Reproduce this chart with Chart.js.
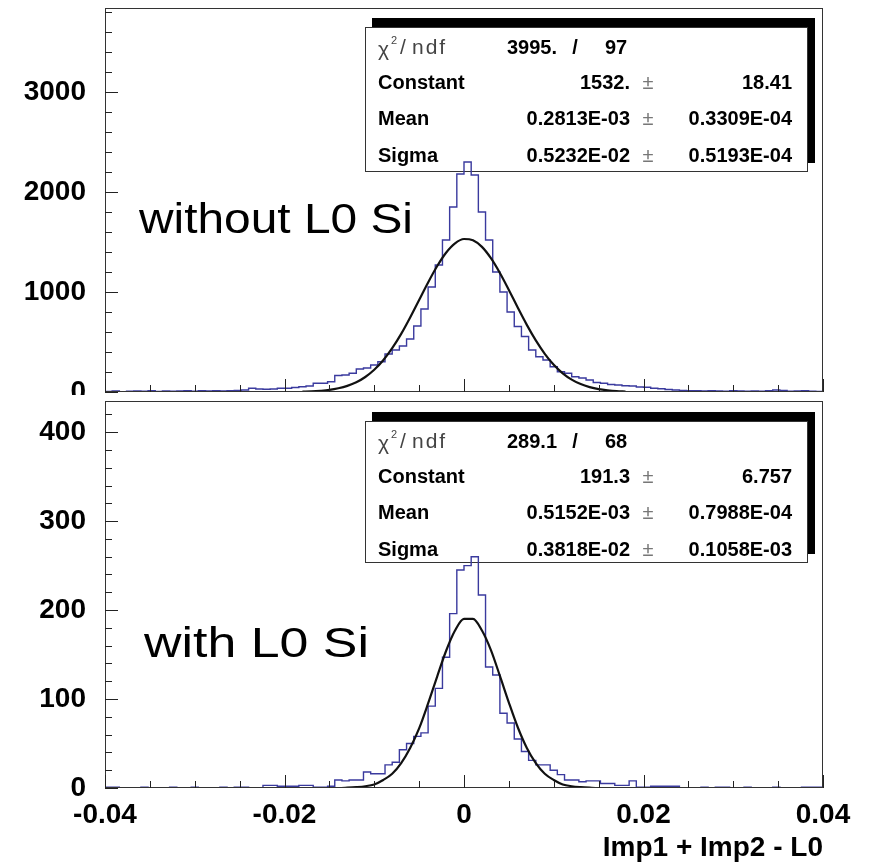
<!DOCTYPE html>
<html>
<head>
<meta charset="utf-8">
<script src="https://cdn.jsdelivr.net/npm/chart.js@4.4.1/dist/chart.umd.min.js"></script>
<style>
  html, body { margin: 0; padding: 0; background: #fff; }
  body { width: 871px; height: 868px; position: relative; overflow: hidden; }
  canvas { position: absolute; left: 0; }
  #topChart { top: 0; }
  #bottomChart { top: 395px; }
  .edge-left { position: absolute; left: 1px; top: 0; height: 868px; border-left: 1px dashed #d6d6d6; }
  .edge-right { position: absolute; left: 858px; top: 0; width: 13px; height: 868px;
    background: repeating-linear-gradient(to bottom, #e2e2e2 0 2px, transparent 2px 7px); }
</style>
</head>
<body>
<div class="edge-left"></div>
<div class="edge-right"></div>
<canvas id="topChart" width="871" height="400"></canvas>
<canvas id="bottomChart" width="871" height="473"></canvas>
<script>
const FONT = "'Liberation Sans', Arial, Helvetica, sans-serif";

// histogram binning: 100 bins from -0.04 to 0.04
const X_MIN = -0.04;
const X_MAX = 0.04;
const BIN_WIDTH = 0.0008;

// tick labels
const xTicks = [-0.04, -0.02, 0, 0.02, 0.04];
const xTickLabels = ['-0.04', '-0.02', '0', '0.02', '0.04'];
const topYTicks = [0, 1000, 2000, 3000];
const bottomYTicks = [0, 100, 200, 300, 400];

// entries per bin, without L0 Si
const topCounts = [
  6, 10, 4, 8, 10, 8, 12, 6, 10, 8,
  10, 12, 8, 12, 10, 14, 10, 13, 15, 20,
  37, 30, 27, 30, 37, 37, 45, 53, 60, 87,
  87, 103, 165, 170, 187, 230, 240, 270, 303, 380,
  420, 460, 530, 660, 830, 1050, 1270, 1520, 1850, 2180,
  2300, 2170, 1800, 1520, 1200, 1000, 800, 655, 555, 420,
  353, 320, 253, 203, 187, 153, 140, 120, 95, 87,
  75, 70, 62, 60, 50, 47, 37, 33, 25, 20,
  15, 13, 12, 10, 12, 10, 8, 12, 10, 8,
  10, 8, 12, 20, 15, 8, 10, 12, 8, 6
];

// entries per bin, with L0 Si
const bottomCounts = [
  1, 1, 0, 0, 0, 1, 0, 0, 0, 1,
  0, 0, 1, 0, 0, 0, 1, 0, 1, 1,
  0, 0, 3, 3, 2, 2, 2, 3, 3, 1,
  1, 2, 9, 8, 9, 9, 18, 16, 16, 26,
  29, 43, 50, 58, 62, 92, 112, 147, 196, 245,
  250, 260, 217, 136, 127, 84, 73, 55, 41, 31,
  26, 26, 20, 15, 9, 9, 7, 8, 8, 5,
  5, 3, 3, 8, 1, 1, 2, 2, 2, 2,
  0, 0, 0, 1, 0, 1, 1, 0, 0, 1,
  0, 0, 0, 1, 0, 0, 0, 1, 1, 1
];

// gaussian fit curves
const fitX = [
  -0.018, -0.017, -0.016, -0.015, -0.014, -0.013, -0.012, -0.011, -0.010, -0.009,
  -0.008, -0.007, -0.006, -0.005, -0.004, -0.003, -0.002, -0.001, 0,
  0.001, 0.002, 0.003, 0.004, 0.005, 0.006, 0.007, 0.008, 0.009,
  0.010, 0.011, 0.012, 0.013, 0.014, 0.015, 0.016, 0.017, 0.018
];
const fitTop = [
  3, 6, 12, 21, 37, 61, 97, 150, 222, 317,
  438, 581, 745, 920, 1096, 1258, 1393, 1487, 1530,
  1517, 1451, 1338, 1190, 1020, 842, 671, 516, 382,
  272, 187, 124, 79, 49, 29, 17, 9, 5
];
const fitBottom = [
  0, 0, 0, 0, 0, 0.4, 1, 2, 4, 9,
  16, 28, 45, 67, 95, 125, 154, 177, 190,
  190, 177, 155, 126, 96, 68, 45, 28, 16,
  9, 4, 2, 1, 0.4, 0, 0, 0, 0
];

// stats boxes
const topChi = ['3995.', '97'];
const topParams = [
  ['Constant', '1532.', '18.41'],
  ['Mean', '0.2813E-03', '0.3309E-04'],
  ['Sigma', '0.5232E-02', '0.5193E-04']
];
const bottomChi = ['289.1', '68'];
const bottomParams = [
  ['Constant', '191.3', '6.757'],
  ['Mean', '0.5152E-03', '0.7988E-04'],
  ['Sigma', '0.3818E-02', '0.1058E-03']
];

function stepPoints(counts) {
  const pts = counts.map((c, i) => ({ x: X_MIN + i * BIN_WIDTH, y: c }));
  pts.push({ x: X_MAX, y: counts[counts.length - 1] });
  return pts;
}

function drawStatsBox(ctx, b, chi, params) {
  const w = b.right - b.left, h = b.bottom - b.top;
  const rows = [27, 62, 98, 135];
  ctx.save();
  // shadow up and to the right
  ctx.fillStyle = '#000';
  ctx.fillRect(b.left + 7, b.top - 9, w, h);
  ctx.fillStyle = '#fff';
  ctx.fillRect(b.left, b.top, w, h);
  ctx.strokeStyle = '#333';
  ctx.lineWidth = 1;
  ctx.strokeRect(b.left + 0.5, b.top + 0.5, w - 1, h - 1);

  ctx.textBaseline = 'alphabetic';
  ctx.textAlign = 'left';
  // chi2/ndf label
  const y0 = b.top + rows[0];
  ctx.fillStyle = '#444';
  ctx.font = `21px ${FONT}`;
  ctx.fillText('\u03c7', b.left + 13, y0 + 2);
  ctx.font = `11px ${FONT}`;
  ctx.fillText('2', b.left + 26, y0 - 10);
  ctx.font = `21px ${FONT}`;
  ctx.fillText('/', b.left + 35, y0);
  ctx.letterSpacing = '2px';
  ctx.fillText('ndf', b.left + 47, y0);
  ctx.letterSpacing = '0px';

  ctx.fillStyle = '#000';
  ctx.font = `bold 20px ${FONT}`;
  ctx.fillText(chi[0], b.left + 142, y0);
  ctx.textAlign = 'center';
  ctx.fillText('/', b.left + 210, y0);
  ctx.textAlign = 'left';
  ctx.fillText(chi[1], b.left + 240, y0);

  params.forEach((p, i) => {
    const yb = b.top + rows[i + 1];
    ctx.fillStyle = '#000';
    ctx.font = `bold 20px ${FONT}`;
    ctx.textAlign = 'left';
    ctx.fillText(p[0], b.left + 13, yb);
    ctx.textAlign = 'right';
    ctx.fillText(p[1], b.left + 265, yb);
    ctx.fillText(p[2], b.left + 427, yb);
    ctx.textAlign = 'center';
    ctx.fillStyle = '#777';
    ctx.font = `20px ${FONT}`;
    ctx.fillText('\u00b1', b.left + 283, yb);
  });
  ctx.restore();
}

function drawNote(ctx, text, x, baseline, width) {
  ctx.save();
  ctx.font = `42px ${FONT}`;
  ctx.fillStyle = '#000';
  ctx.textAlign = 'left';
  ctx.textBaseline = 'alphabetic';
  const tw = ctx.measureText(text).width;
  ctx.translate(x, baseline);
  ctx.scale(width / tw, 1);
  ctx.fillText(text, 0, 0);
  ctx.restore();
}

function drawFrame(chart, yMinor, yMajor) {
  const { ctx, chartArea: a, scales: { x, y } } = chart;
  ctx.save();
  ctx.strokeStyle = '#333';
  ctx.lineWidth = 1;
  ctx.strokeRect(Math.round(a.left) + 0.5, Math.round(a.top) + 0.5,
    Math.round(a.right - a.left) - 1, Math.round(a.bottom - a.top) - 1);
  ctx.strokeStyle = '#222';
  ctx.beginPath();
  for (let v = 0; v <= y.max + 1e-9; v += yMinor) {
    const py = Math.round(y.getPixelForValue(v)) + 0.5;
    const len = Math.round(v) % yMajor === 0 ? 13 : 7;
    ctx.moveTo(a.left, py);
    ctx.lineTo(a.left + len, py);
  }
  for (let i = 0; i <= 16; i++) {
    const v = X_MIN + i * 0.005;
    const px = Math.round(x.getPixelForValue(v)) + 0.5;
    const len = i % 4 === 0 ? 13 : 7;
    ctx.moveTo(px, a.bottom);
    ctx.lineTo(px, a.bottom - len);
  }
  ctx.stroke();
  ctx.restore();
}

function decorPlugin(cfg) {
  return {
    id: 'decor',
    beforeDraw(chart) {
      const ctx = chart.ctx;
      ctx.save();
      ctx.fillStyle = '#fff';
      ctx.fillRect(0, 0, chart.width, chart.height);
      ctx.restore();
    },
    beforeDatasetsDraw(chart) {
      drawStatsBox(chart.ctx, cfg.box, cfg.chi, cfg.params);
      drawNote(chart.ctx, cfg.note, cfg.noteX, cfg.noteY, cfg.noteWidth);
    },
    afterDatasetsDraw(chart) {
      drawFrame(chart, cfg.yMinor, cfg.yMajor);
    }
  };
}

const tickFont = { family: FONT, size: 28, weight: 'bold' };

function makePanel(canvasId, counts, fit, yMax, yTicks, showX, padding, cfg) {
  const ctx = document.getElementById(canvasId).getContext('2d');
  return new Chart(ctx, {
    type: 'line',
    data: {
      datasets: [
        {
          label: 'fit',
          data: fitX.map((x, i) => ({ x: x, y: fit[i] })),
          borderColor: '#111',
          borderWidth: 2.2,
          pointRadius: 0,
          cubicInterpolationMode: 'monotone',
          fill: false,
          order: 0
        },
        {
          label: 'hist',
          data: stepPoints(counts),
          borderColor: '#3a3a9e',
          borderWidth: 1.4,
          pointRadius: 0,
          stepped: 'before',
          fill: false,
          order: 1
        }
      ]
    },
    options: {
      responsive: false,
      animation: false,
      layout: { padding: padding },
      plugins: { legend: { display: false }, tooltip: { enabled: false } },
      scales: {
        x: {
          type: 'linear',
          min: X_MIN,
          max: X_MAX,
          display: showX,
          afterBuildTicks: s => { s.ticks = xTicks.map(v => ({ value: v })); },
          afterFit: s => {
            if (showX) s.height = 80;
            s.paddingLeft = 0;
            s.paddingRight = 0;
          },
          grid: { display: false, drawTicks: false },
          border: { display: false },
          ticks: {
            padding: 10,
            autoSkip: false,
            maxRotation: 0,
            minRotation: 0,
            color: '#000',
            font: tickFont,
            callback: (v, i) => xTickLabels[i]
          },
          title: {
            display: true,
            text: 'Imp1 + Imp2 - L0',
            align: 'end',
            color: '#000',
            font: tickFont,
            padding: { top: 0, bottom: 3 }
          }
        },
        y: {
          type: 'linear',
          min: 0,
          max: yMax,
          afterBuildTicks: s => { s.ticks = yTicks.map(v => ({ value: v })); },
          afterFit: s => {
            s.width = 105;
            s.paddingTop = 0;
            s.paddingBottom = 0;
          },
          grid: { display: false, drawTicks: false },
          border: { display: false },
          ticks: {
            padding: 19,
            autoSkip: false,
            color: '#000',
            font: tickFont,
            callback: (v, i) => String(yTicks[i])
          }
        }
      }
    },
    plugins: [decorPlugin(cfg)]
  });
}

makePanel('topChart', topCounts, fitTop, 3840, topYTicks, false,
  { top: 8, right: 48, bottom: 8, left: 0 },
  {
    box: { left: 365, top: 27, right: 808, bottom: 172 },
    chi: topChi, params: topParams,
    note: 'without L0 Si', noteX: 139, noteY: 233, noteWidth: 274,
    yMinor: 200, yMajor: 1000
  });

makePanel('bottomChart', bottomCounts, fitBottom, 435, bottomYTicks, true,
  { top: 6, right: 48, bottom: 0, left: 0 },
  {
    box: { left: 365, top: 26, right: 808, bottom: 168 },
    chi: bottomChi, params: bottomParams,
    note: 'with L0 Si', noteX: 144, noteY: 262, noteWidth: 225,
    yMinor: 20, yMajor: 100
  });
</script>
</body>
</html>
